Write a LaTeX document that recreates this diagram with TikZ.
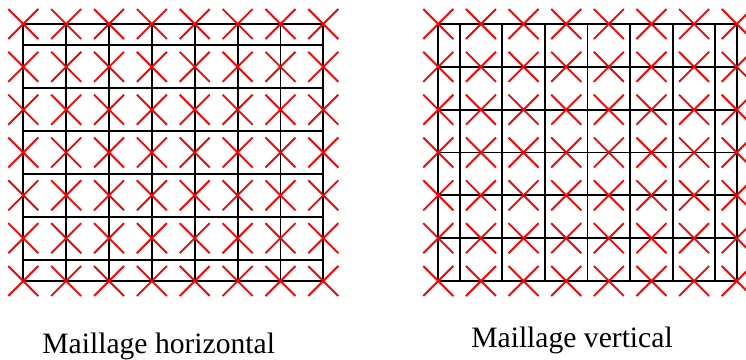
\documentclass[tikz,border=0pt]{standalone}
\usepackage{fontspec}
\setmainfont{Liberation Serif}
\begin{document}
\begin{tikzpicture}[x=0.75pt,y=-0.75pt,
  gridline/.style={black,line width=1.4pt},
  crossmark/.style={red,line width=1.4pt},
  caption/.style={anchor=base,inner sep=0pt,font=\fontsize{22.2}{26}\selectfont}]
\useasboundingbox (0,0) rectangle (746,360);
% ---------- left: horizontal mesh ----------
\def\lxa{23.3}\def\lxb{323.3}\def\ldx{42.857}
\def\ya{24}\def\yb{281}\def\dy{42.833}
\foreach \i in {0,...,7}
  \draw[gridline] ({\lxa+\i*\ldx},\ya) -- ({\lxa+\i*\ldx},\yb);
\draw[gridline] (\lxa,\ya) -- (\lxb,\ya);
\draw[gridline] (\lxa,\yb) -- (\lxb,\yb);
\foreach \j in {0,...,5}
  \draw[gridline] (\lxa,{\ya+\dy/2+\j*\dy}) -- (\lxb,{\ya+\dy/2+\j*\dy});
\foreach \i in {0,...,7}
  \foreach \j in {0,...,6}
    \draw[crossmark] ({\lxa+\i*\ldx-15},{\ya+\j*\dy-15}) -- ++(30,30)
                     ({\lxa+\i*\ldx-15},{\ya+\j*\dy+15}) -- ++(30,-30);
% ---------- right: vertical mesh ----------
\def\rxa{438.3}\def\rxb{736.7}\def\rdx{42.629}
\foreach \j in {0,...,6}
  \draw[gridline] (\rxa,{\ya+\j*\dy}) -- (\rxb,{\ya+\j*\dy});
\draw[gridline] (\rxa,\ya) -- (\rxa,\yb);
\draw[gridline] (\rxb,\ya) -- (\rxb,\yb);
\foreach \i in {0,...,6}
  \draw[gridline] ({\rxa+\rdx/2+\i*\rdx},\ya) -- ({\rxa+\rdx/2+\i*\rdx},\yb);
\foreach \i in {0,...,7}
  \foreach \j in {0,...,6}
    \draw[crossmark] ({\rxa+\i*\rdx-15},{\ya+\j*\dy-15}) -- ++(30,30)
                     ({\rxa+\i*\rdx-15},{\ya+\j*\dy+15}) -- ++(30,-30);
% ---------- captions ----------
\node[caption] (caph) at (158.7,353.5) {Maillage horizontal};
\node[caption] (capv) at (572,347.5) {Maillage vertical};
\end{tikzpicture}
\end{document}
